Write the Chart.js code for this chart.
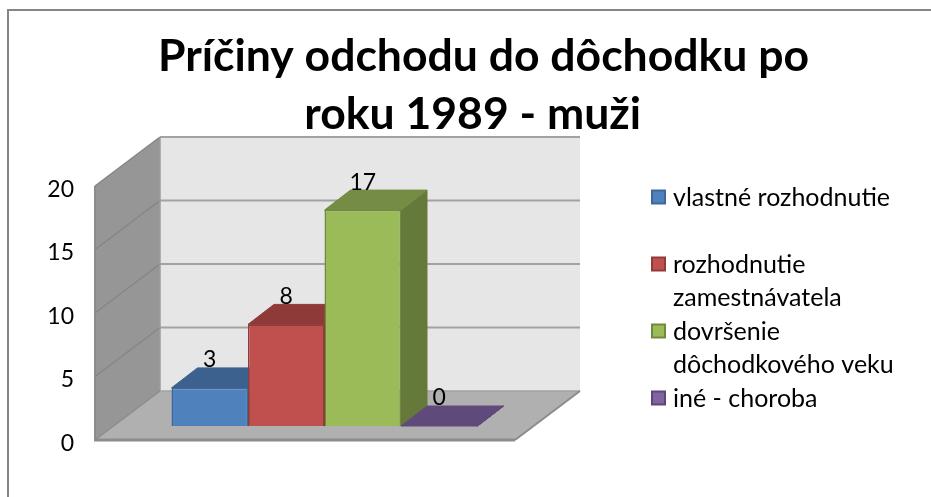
<!DOCTYPE html>
<html>
<head>
    <title>Príčiny odchodu do dôchodku</title>
    <script src="https://cdn.jsdelivr.net/npm/chart.js"></script>
    <style>
        html, body { margin: 0; padding: 0; background: #fff; }
        canvas { display: block; }
    </style>
</head>
<body>
    <canvas id="chart" width="931" height="497"></canvas>

    <script>
    const categories = ['muži'];
    const seriesLabels = [
        ['vlastné rozhodnutie', ''],
        ['rozhodnutie', 'zamestnávatela'],
        ['dovršenie', 'dôchodkového veku'],
        ['iné - choroba']
    ];
    const seriesValues = [[3], [8], [17], [0]];
    const titleLines = ['Príčiny odchodu do dôchodku po', 'roku 1989 - muži  '];
    const fronts = ['#4f81bd', '#c0504d', '#9bbb59', '#8064a2'];
    const edges = ['#3f6899', '#8f3c3a', '#71893f', '#5c4776'];
    const tops = ['#3c618f', '#8e3a38', '#748c43', '#604a7b'];
    const sides = ['#365780', '#7d3331', '#657a3a', '#54406c'];

    const fontName = 'Lato, "Open Sans", sans-serif';
    // projection of the 3d box, in px
    const wallDepth = { x: 65, y: -49 };
    const barOffset = { x: 19.5, y: -14 };
    const barDepth = { x: 26, y: -20 };

    function poly(ctx, pts, fill, stroke, lw) {
        ctx.beginPath();
        pts.forEach((p, i) => i ? ctx.lineTo(p[0], p[1]) : ctx.moveTo(p[0], p[1]));
        ctx.closePath();
        ctx.fillStyle = fill;
        ctx.fill();
        if (stroke) {
            ctx.strokeStyle = stroke;
            ctx.lineWidth = lw || 1;
            ctx.stroke();
        }
    }

    function line(ctx, x1, y1, x2, y2, color, lw) {
        ctx.beginPath();
        ctx.moveTo(x1, y1);
        ctx.lineTo(x2, y2);
        ctx.strokeStyle = color;
        ctx.lineWidth = lw;
        ctx.stroke();
    }

    const box3d = {
        id: 'box3d',
        afterLayout(chart) {
            // title is centred on the whole picture, legend sits right of the box
            chart.titleBlock.left = 36;
            chart.titleBlock.right = 931;
            const legend = chart.legend;
            legend.left = 651.5;
            legend.right = 931;
            legend.top = 185;
            legend.bottom = 497;
        },
        beforeDraw(chart) {
            const ctx = chart.ctx;
            const a = chart.chartArea;
            const y = chart.scales.y;
            const d = wallDepth;
            const y0 = y.getPixelForValue(0);
            const yMax = y.getPixelForValue(20);

            ctx.save();
            ctx.fillStyle = '#fff';
            ctx.fillRect(0, 0, chart.width, chart.height);
            line(ctx, 8, 10, 931, 10, '#868686', 2);
            line(ctx, 8, 9, 8, 497, '#868686', 2);

            // back wall
            poly(ctx, [[a.left + d.x, yMax + d.y], [a.right + d.x, yMax + d.y], [a.right + d.x, y0 + d.y], [a.left + d.x, y0 + d.y]], '#e6e6e6');
            // left wall
            poly(ctx, [[a.left, yMax], [a.left + d.x, yMax + d.y], [a.left + d.x, y0 + d.y], [a.left, y0]], '#969696');
            // floor
            poly(ctx, [[a.left, y0], [a.right, y0], [a.right + d.x, y0 + d.y], [a.left + d.x, y0 + d.y]], '#b0b0b0');

            y.ticks.forEach(t => {
                const py = y.getPixelForValue(t.value);
                if (t.value > 0) {
                    line(ctx, a.left, py, a.left + d.x, py + d.y, '#868686', 1.5);
                    line(ctx, a.left + d.x, py + d.y, a.right + d.x, py + d.y, '#a2a2a2', 2);
                }
            });
            line(ctx, a.left + d.x, yMax + d.y, a.left + d.x, y0 + d.y, '#9c9c9c', 1.5);
            line(ctx, a.left, yMax, a.left, y0, '#8c8c8c', 2);
            line(ctx, a.left, y0, a.left + d.x, y0 + d.y, '#8c8c8c', 1.5);
            line(ctx, a.left + d.x, y0 + d.y, a.right + d.x, y0 + d.y, '#a2a2a2', 1.5);
            line(ctx, a.right, y0, a.right + d.x, y0 + d.y, '#8c8c8c', 2);
            line(ctx, a.left - 1, y0, a.right, y0, '#8c8c8c', 3);
            ctx.restore();
        },
        beforeDatasetsDraw(chart) {
            const ctx = chart.ctx;
            ctx.save();
            ctx.translate(barOffset.x, barOffset.y);
            // top and side faces first, the library paints the fronts over them
            chart.data.datasets.forEach((ds, i) => {
                const bar = chart.getDatasetMeta(i).data[0];
                const p = bar.getProps(['x', 'y', 'base', 'width'], false);
                const l = p.x - p.width / 2;
                const r = p.x + p.width / 2;
                const dx = barDepth.x;
                const dy = barDepth.y;
                poly(ctx, [[r, p.y], [r + dx, p.y + dy], [r + dx, p.base + dy], [r, p.base]], sides[i], sides[i]);
                poly(ctx, [[l, p.y], [r, p.y], [r + dx, p.y + dy], [l + dx, p.y + dy]], tops[i], tops[i]);
            });
        },
        afterDatasetsDraw(chart) {
            const ctx = chart.ctx;
            ctx.restore();
            // value labels
            ctx.save();
            ctx.font = '23px ' + fontName;
            ctx.fillStyle = '#000';
            ctx.textAlign = 'center';
            ctx.textBaseline = 'middle';
            chart.data.datasets.forEach((ds, i) => {
                const bar = chart.getDatasetMeta(i).data[0];
                ctx.fillText(String(ds.data[0]), bar.x + barOffset.x, bar.y + barOffset.y - 28);
            });
            ctx.restore();
        },
        afterDraw(chart) {
            // legend swatches, closer to the text than the library puts them
            const ctx = chart.ctx;
            let row = 0;
            ctx.save();
            chart.legend.legendItems.forEach((item, i) => {
                const top = 190.5 + row * 33.5;
                ctx.fillStyle = fronts[i];
                ctx.strokeStyle = edges[i];
                ctx.lineWidth = 2;
                ctx.fillRect(652, top, 13, 13);
                ctx.strokeRect(652, top, 13, 13);
                row += item.text.length;
            });
            ctx.restore();
        }
    };

    new Chart(document.getElementById('chart'), {
        type: 'bar',
        data: {
            labels: categories,
            datasets: seriesValues.map((values, i) => ({
                label: seriesLabels[i],
                data: values,
                backgroundColor: fronts[i],
                borderColor: edges[i],
                borderWidth: 1.5,
                categoryPercentage: 0.7286,
                barPercentage: 1,
                clip: false
            }))
        },
        options: {
            responsive: false,
            animation: false,
            layout: { padding: { left: 0, right: 416, top: 0, bottom: 57 } },
            scales: {
                x: { display: false },
                y: {
                    min: 0,
                    max: 20,
                    afterFit(scale) { scale.width = 95; },
                    border: { display: false },
                    grid: { display: false, drawTicks: false },
                    ticks: {
                        stepSize: 5,
                        color: '#000',
                        padding: 21,
                        font: { family: fontName, size: 23, lineHeight: 7 / 23 },
                        // blank first line pushes the number a little below the gridline
                        callback: value => ['', String(value)]
                    }
                }
            },
            plugins: {
                title: {
                    display: true,
                    text: titleLines,
                    color: '#000',
                    padding: { top: 28, bottom: 42 },
                    font: { family: fontName, size: 44.5, weight: 'bold', lineHeight: 58 / 44.5 }
                },
                legend: {
                    display: true,
                    position: 'chartArea',
                    align: 'start',
                    labels: {
                        boxWidth: 9,
                        boxHeight: 9,
                        padding: 0,
                        color: '#000',
                        font: { family: fontName, size: 25, lineHeight: 33.5 / 25 },
                        generateLabels(chart) {
                            return chart.data.datasets.map((ds, i) => ({
                                text: ds.label,
                                fillStyle: 'rgba(0,0,0,0)',
                                strokeStyle: 'rgba(0,0,0,0)',
                                lineWidth: 0,
                                datasetIndex: i
                            }));
                        }
                    }
                },
                tooltip: { enabled: false }
            }
        },
        plugins: [box3d]
    });
    </script>
</body>
</html>
